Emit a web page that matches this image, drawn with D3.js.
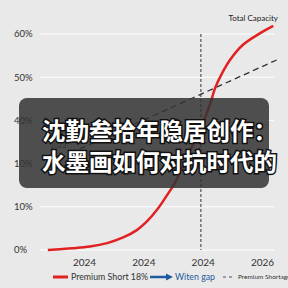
<!DOCTYPE html>
<html>
<head>
<meta charset="utf-8">
<script src="https://cdn.jsdelivr.net/npm/d3@7"></script>
<style>
  html, body { margin: 0; padding: 0; background: #e9e9e9; }
  svg { display: block; font-family: Lato, "Noto Sans", sans-serif; }
</style>
</head>
<body>
<div id="chart"></div>
<script>
// tick labels (as printed on the picture)
var yLabels = ["0%", "10%", "10%", "40%", "50%", "60%"]
var xTicks = [1, 2, 3, 4]
var xLabels = ["2024", "2024", "2024", "2026"]

// red curve: x position (tick units), y value (gridline units)
var redX = [0.39, 0.81, 1.10, 1.39, 1.66, 1.89, 2.06, 2.23, 2.40, 2.53, 2.79, 3.04, 3.13, 3.21, 3.33, 3.46, 3.68, 3.97, 4.19]
var redY = [0.00, 0.04, 0.08, 0.16, 0.29, 0.46, 0.66, 0.93, 1.27, 1.55, 2.31, 3.06, 3.40, 3.75, 4.10, 4.40, 4.75, 5.02, 5.19]

// dashed trend line
var dashX = [0.93, 4.25]
var dashY = [2.34, 4.40]

var markerX = 2.97
var startLabel = "1023"
var title = ["沈勤叁拾年隐居创作：", "水墨画如何对抗时代的"]

var width = 288, height = 288

var svg = d3.select("#chart")
  .append("svg")
  .attr("width", width)
  .attr("height", height)

svg.append("rect")
  .attr("width", width)
  .attr("height", height)
  .attr("fill", "#e9e9e9")

var x = d3.scaleLinear().domain([0, 4]).range([24.7, 262])
var y = d3.scaleLinear().domain([0, 5]).range([250, 34])

// grid lines
svg.append("g")
  .selectAll("line")
  .data(d3.range(yLabels.length))
  .enter()
  .append("line")
  .attr("x1", 40)
  .attr("x2", 274)
  .attr("y1", function (d) { return y(d); })
  .attr("y2", function (d) { return y(d); })
  .attr("stroke", "#ffffff")
  .attr("stroke-width", 1)

// y labels
svg.append("g")
  .selectAll("text")
  .data(yLabels)
  .enter()
  .append("text")
  .attr("x", 14)
  .attr("y", function (d, i) { return y(i); })
  .attr("dy", "0.35em")
  .attr("font-size", 9.5)
  .attr("fill", "#333")
  .text(function (d) { return d; })

// x axis labels
var xAxis = svg.append("g")
  .attr("transform", "translate(0,260)")
  .call(d3.axisBottom(x).tickValues(xTicks).tickSize(0).tickFormat(function (d, i) { return xLabels[i]; }))
xAxis.select(".domain").remove()
xAxis.selectAll("text")
  .attr("font-size", 10)
  .attr("font-family", "Lato, sans-serif")
  .attr("fill", "#333")
  .attr("dy", "0.3em")

// vertical marker
svg.append("line")
  .attr("x1", x(markerX))
  .attr("x2", x(markerX))
  .attr("y1", y(5))
  .attr("y2", y(0))
  .attr("stroke", "#333")
  .attr("stroke-width", 1)
  .attr("stroke-dasharray", "3,2")

// dashed trend
var line = d3.line()
  .x(function (d) { return x(d[0]); })
  .y(function (d) { return y(d[1]); })

svg.append("path")
  .datum(d3.zip(dashX, dashY))
  .attr("d", line)
  .attr("fill", "none")
  .attr("stroke", "#333")
  .attr("stroke-width", 1.3)
  .attr("stroke-dasharray", "6,4")

svg.append("text")
  .attr("x", 50)
  .attr("y", y(dashY[0]) - 1)
  .attr("font-size", 7)
  .attr("fill", "#333")
  .text(startLabel)

// red curve
svg.append("path")
  .datum(d3.zip(redX, redY))
  .attr("d", d3.line()
    .x(function (d) { return x(d[0]); })
    .y(function (d) { return y(d[1]); })
    .curve(d3.curveCatmullRom))
  .attr("fill", "none")
  .attr("stroke", "#e02222")
  .attr("stroke-width", 2.5)

svg.append("text")
  .attr("x", 278)
  .attr("y", 21)
  .attr("text-anchor", "end")
  .attr("font-size", 8)
  .attr("fill", "#222")
  .text("Total Capacity")

// legend
var lg = svg.append("g").attr("transform", "translate(0,277)")
lg.append("line").attr("x1", 53).attr("x2", 68).attr("stroke", "#e02222").attr("stroke-width", 3)
lg.append("text").attr("x", 71).attr("dy", "0.35em").attr("font-size", 8.8).attr("fill", "#333").text("Premium Short 18%")
lg.append("line").attr("x1", 150).attr("x2", 167).attr("stroke", "#1f5a9c").attr("stroke-width", 2.5)
lg.append("path").attr("d", "M166,-3.5L173,0L166,3.5Z").attr("fill", "#1f5a9c")
lg.append("text").attr("x", 175).attr("dy", "0.35em").attr("font-size", 8.8).attr("fill", "#1f5a9c").text("Witen gap")
lg.append("line").attr("x1", 223).attr("x2", 234).attr("stroke", "#555").attr("stroke-width", 1).attr("stroke-dasharray", "3,3")
lg.append("text").attr("x", 238).attr("dy", "0.35em").attr("font-size", 6.5).attr("fill", "#333").text("Premium Shortage")

// overlay caption
svg.append("rect")
  .attr("x", 19)
  .attr("y", 98)
  .attr("width", 250)
  .attr("height", 90)
  .attr("rx", 8)
  .attr("fill", "#333")
  .attr("fill-opacity", 0.85)

svg.append("g")
  .selectAll("text")
  .data(title)
  .enter()
  .append("text")
  .attr("x", 42)
  .attr("y", function (d, i) { return 140 + i * 31; })
  .attr("font-family", "Noto Sans CJK SC")
  .attr("font-weight", "bold")
  .attr("font-size", 23.5)
  .attr("fill", "#fff")
  .attr("stroke", "#111")
  .attr("stroke-width", 3)
  .attr("paint-order", "stroke")
  .text(function (d) { return d; })
</script>
</body>
</html>
